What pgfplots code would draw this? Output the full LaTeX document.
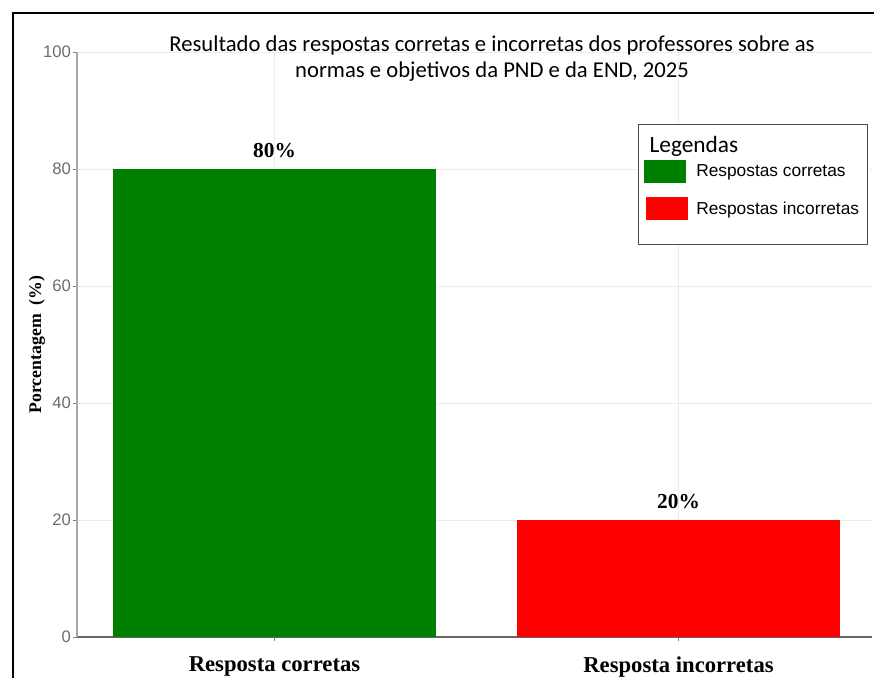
\documentclass[border=0pt]{standalone}
\usepackage{pgfplots}
\pgfplotsset{compat=1.18}
\usepackage{fontspec}
\setmainfont{Liberation Serif}
\newfontfamily\carlito{Carlito}
\newfontfamily\arial{Liberation Sans}
\definecolor{bargreen}{RGB}{0,128,0}
\definecolor{barred}{RGB}{255,0,0}
\begin{document}
\begin{tikzpicture}
\path[use as bounding box] (0pt,0pt) rectangle (655.5pt,508.5pt);
\draw[black, line width=2.2pt] (9.75pt,0pt) -- (9.75pt,498.75pt) -- (655.5pt,498.75pt);
\begin{axis}[
  at={(57.75pt,30.75pt)}, anchor=south west,
  scale only axis, width=596.25pt, height=438.75pt,
  xmin=-0.4889, xmax=1.479, ymin=0, ymax=100,
  axis x line*=bottom, axis y line*=left,
  ytick={0,20,...,100}, xtick={0,1},
  xticklabels={Resposta corretas, Resposta incorretas},
  ymajorgrids, xmajorgrids, grid style={gray!15},
  y axis line style={gray!70, line width=1pt},
  x axis line style={black!60, line width=1.2pt},
  tick align=outside, major tick length=3pt, tick style={gray},
  /pgf/number format/assume math mode=true,
  yticklabel style={font=\arial\fontsize{12.5}{12.5}\selectfont, text=gray!85!black, xshift=2pt},
  xticklabel style={font=\bfseries\fontsize{17}{17}\selectfont, yshift=-8pt},
  ylabel={Porcentagem\ \ (\%)},
  ylabel style={font=\bfseries\fontsize{13.3}{13.3}\selectfont, at={(axis description cs:-0.0503,0.5)}, anchor=center},
  nodes near coords={\pgfmathprintnumber{\pgfplotspointmeta}\%},
  nodes near coords style={font=\bfseries\fontsize{16}{16}\selectfont, inner sep=0pt, anchor=south, yshift=8pt, text=black},
  legend style={at={(axis description cs:0.995,0.877)}, anchor=north east,
    draw=black!70, fill=white, font=\arial\fontsize{13}{14}\selectfont,
    row sep=11pt, inner xsep=4.5pt, inner ysep=3.25pt,
    /tikz/every odd column/.append style={column sep=4pt}},
  legend cell align=left,
]
\addlegendimage{empty legend}
\addlegendentry{\hspace{-35pt}\raisebox{-9.25pt}[7pt][0pt]{\carlito\fontsize{17.5}{18}\selectfont Legendas}}
\addplot[ybar, fill=bargreen, draw=none, bar width=0.8, bar shift=0pt,
  legend image code/.code={\fill[bargreen] (0pt,-8.6pt) rectangle (31.5pt,8.6pt);}]
  coordinates {(0,80)};
\addlegendentry{Respostas corretas}
\addplot[ybar, fill=barred, draw=none, bar width=0.8, bar shift=0pt,
  legend image code/.code={\fill[barred] (1.5pt,-8.6pt) rectangle (33pt,8.6pt);\path (0pt,-23.25pt);}]
  coordinates {(1,20)};
\addlegendentry{Respostas incorretas}
\end{axis}
\node[font=\carlito\fontsize{17}{20}\selectfont, align=center] at (369pt,464.6pt)
  {Resultado das respostas corretas e incorretas dos professores sobre as\\normas e objetivos da PND e da END, 2025};
\end{tikzpicture}
\end{document}
